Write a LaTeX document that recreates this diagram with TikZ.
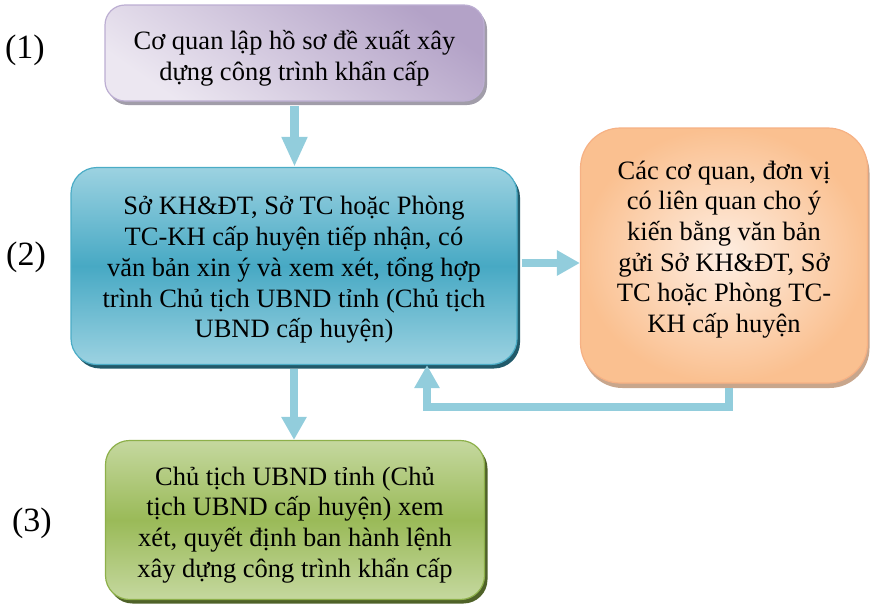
\documentclass[tikz,border=0pt]{standalone}
\usepackage{fontspec}
\setmainfont{Liberation Serif}
\usetikzlibrary{arrows.meta,shadows,calc}
\definecolor{arrc}{HTML}{92CDDC}
\definecolor{purL}{HTML}{ECE7F1}
\definecolor{purD}{HTML}{B3A2C7}
\definecolor{purB}{HTML}{BCAED2}
\definecolor{bluL}{HTML}{9CD2E1}
\definecolor{bluD}{HTML}{47A9C4}
\definecolor{bluB}{HTML}{4BACC6}
\definecolor{bluS}{HTML}{215A6A}
\definecolor{orL}{HTML}{FEEEE2}
\definecolor{orD}{HTML}{FAC090}
\definecolor{orB}{HTML}{F6B184}
\definecolor{orS}{HTML}{C29C80}
\definecolor{grL}{HTML}{C5D89F}
\definecolor{grD}{HTML}{9ABA58}
\definecolor{grB}{HTML}{8DB04A}
\definecolor{grS}{HTML}{4F6228}
\definecolor{purS}{HTML}{8A8494}
\tikzset{
  box/.style={rectangle, inner sep=0pt, line width=1.2pt},
  txt/.style={align=center, inner sep=0pt, font=\fontsize{26.5}{30.7}\selectfont},
  lbl/.style={font=\fontsize{34}{40}\selectfont, inner sep=0pt},
  arrbig/.style={draw=arrc, line width=9pt, -{Triangle[width=24pt,length=30pt]}},
  arr/.style={draw=arrc, line width=8pt, -{Triangle[width=24pt,length=23pt]}}
}
\begin{document}
\begin{tikzpicture}[x=1pt,y=-1pt]
\useasboundingbox (0,0) rectangle (874,606);
% boxes
\node[box, minimum width=379pt, minimum height=96pt, rounded corners=20pt,
  draw=purB, top color=purD, bottom color=purL, shading angle=-35,
  drop shadow={shadow xshift=3pt, shadow yshift=-4pt, fill=purS, opacity=0.8}]
  (b1) at (294.5,53) {};
\node[box, minimum width=446pt, minimum height=197pt, rounded corners=26pt,
  draw=bluB, top color=bluL, bottom color=bluL, middle color=bluD,
  drop shadow={shadow xshift=3pt, shadow yshift=-4pt, fill=bluS, opacity=1}]
  (b2) at (294,266) {};
\node[box, minimum width=287pt, minimum height=255pt, rounded corners=40pt,
  draw=orB, inner color=orL, outer color=orD,
  drop shadow={shadow xshift=2pt, shadow yshift=-5pt, fill=orS, opacity=0.9}]
  (b3) at (724,255.5) {};
\node[box, minimum width=379pt, minimum height=159pt, rounded corners=24pt,
  draw=grB, top color=grL, bottom color=grL, middle color=grD,
  drop shadow={shadow xshift=3pt, shadow yshift=-4pt, fill=grS, opacity=1}]
  (b4) at (295,520) {};
% texts
\node[txt] (t1) at ($(b1.center)+(0,5)$) {Cơ quan lập hồ sơ đề xuất xây\\dựng công trình khẩn cấp};
\node[txt] (t2) at ($(b2.center)+(0,4)$) {Sở KH\&ĐT, Sở TC hoặc Phòng\\TC-KH cấp huyện tiếp nhận, có\\văn bản xin ý và xem xét, tổng hợp\\trình Chủ tịch UBND tỉnh (Chủ tịch\\UBND cấp huyện)};
\node[txt] (t3) at ($(b3.center)+(0,-6)$) {Các cơ quan, đơn vị\\có liên quan cho ý\\kiến bằng văn bản\\gửi Sở KH\&ĐT, Sở\\TC hoặc Phòng TC-\\KH cấp huyện};
\node[txt] (t4) at ($(b4.center)+(0,5)$) {Chủ tịch UBND tỉnh (Chủ\\tịch UBND cấp huyện) xem\\xét, quyết định ban hành lệnh\\xây dựng công trình khẩn cấp};
% labels
\node[lbl] (l1) at (25,50) {(1)};
\node[lbl] (l2) at (26,257) {(2)};
\node[lbl] (l3) at (32,523) {(3)};
% arrows
\draw[arrbig] ([yshift=-4pt]b1.south) -- (b1.south |- b2.north);
\draw[arr] ([yshift=-4pt]b2.south) -- (b2.south |- b4.north);
\draw[arr] ([xshift=4pt,yshift=3pt]b2.east) -- ([yshift=3pt]b2.east -| b3.west);
\coordinate (fb) at ($(b3.south)+(5,23)$);
\draw[arr] ([xshift=5pt,yshift=-4pt]b3.south) -- (fb) -| ([xshift=133pt]b2.south);
\end{tikzpicture}
\end{document}
